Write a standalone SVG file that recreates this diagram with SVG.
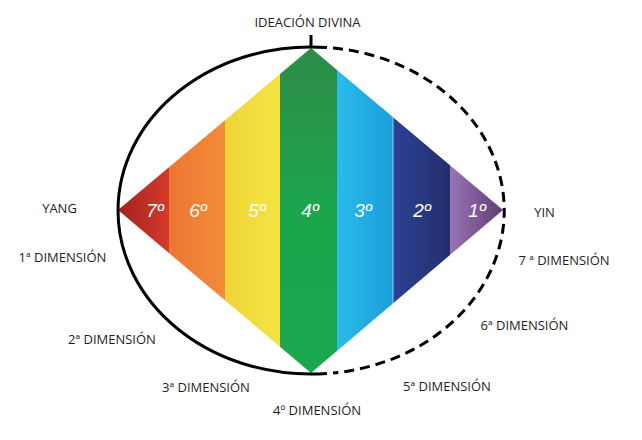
<svg xmlns="http://www.w3.org/2000/svg" width="642" height="440" viewBox="0 0 642 440">
<style>
.lbl{font-family:"Open Sans","Liberation Sans",sans-serif;font-size:13px;fill:#1e1e1e;text-anchor:middle}
.num{font-family:"Liberation Sans",Arial,sans-serif;font-style:italic;font-size:19px;fill:#ffffff;text-anchor:middle}
.arc{fill:none;stroke:#000;stroke-width:3}
</style>
<defs>
<clipPath id="dia"><polygon points="118,210 311,48 503,210 311,373"/></clipPath>
<linearGradient id="gRed" x1="0" y1="0" x2="1" y2="0"><stop offset="0" stop-color="#a3201d"/><stop offset="1" stop-color="#d43b2b"/></linearGradient>
<linearGradient id="gOrange" x1="0" y1="0" x2="1" y2="0"><stop offset="0" stop-color="#ec7632"/><stop offset="1" stop-color="#f28c3a"/></linearGradient>
<linearGradient id="gYellow" x1="0" y1="0" x2="1" y2="0"><stop offset="0" stop-color="#f0d438"/><stop offset="1" stop-color="#f3e444"/></linearGradient>
<linearGradient id="gGreen" x1="0" y1="0" x2="0" y2="1"><stop offset="0" stop-color="#2f8a46"/><stop offset="0.5" stop-color="#1ba64c"/><stop offset="1" stop-color="#1ba74e"/></linearGradient>
<linearGradient id="gCyan" x1="0" y1="0" x2="1" y2="0"><stop offset="0" stop-color="#2bbbec"/><stop offset="1" stop-color="#1b9ed9"/></linearGradient>
<linearGradient id="gBlue" x1="0" y1="0" x2="1" y2="0"><stop offset="0" stop-color="#2d4195"/><stop offset="1" stop-color="#222f6c"/></linearGradient>
<linearGradient id="gPurple" x1="0" y1="0" x2="1" y2="0"><stop offset="0" stop-color="#9c74b4"/><stop offset="1" stop-color="#5c3d75"/></linearGradient>
</defs>
<g id="diamond" clip-path="url(#dia)">
<rect id="band7" x="117" y="40" width="52" height="340" fill="url(#gRed)"/>
<rect id="band6" x="169" y="40" width="56" height="340" fill="url(#gOrange)"/>
<rect id="band5" x="225" y="40" width="55" height="340" fill="url(#gYellow)"/>
<rect id="band4" x="280" y="40" width="57" height="340" fill="url(#gGreen)"/>
<rect id="band3" x="337" y="40" width="56" height="340" fill="url(#gCyan)"/>
<rect id="band2" x="393" y="40" width="57" height="340" fill="url(#gBlue)"/>
<rect id="band1" x="450" y="40" width="54" height="340" fill="url(#gPurple)"/>
<line x1="393" y1="40" x2="393" y2="380" stroke="#8fd0f2" stroke-width="1"/>
</g>
<g id="connectors">
<path class="arc" d="M327,47.6 A192.5,163.5 0 1 0 327,373.4"/>
<path class="arc" stroke-dasharray="10,6" d="M333,48 A192.5,163.5 0 0 1 333,373"/>
<line x1="311" y1="35" x2="311" y2="48" stroke="#000" stroke-width="3"/>
</g>
<g id="numerals">
<text class="num" x="155" y="217">7º</text>
<text class="num" x="198" y="217">6º</text>
<text class="num" x="257" y="217">5º</text>
<text class="num" x="310" y="217">4º</text>
<text class="num" x="363" y="217">3º</text>
<text class="num" x="422" y="217">2º</text>
<text class="num" x="477" y="217">1º</text>
</g>
<g id="labels">
<text class="lbl" x="307.5" y="27">IDEACIÓN DIVINA</text>
<text class="lbl" x="59.5" y="213">YANG</text>
<text class="lbl" x="62.5" y="262">1ª DIMENSIÓN</text>
<text class="lbl" x="544.5" y="217">YIN</text>
<text class="lbl" x="564" y="265">7 ª DIMENSIÓN</text>
<text class="lbl" x="112" y="344">2ª DIMENSIÓN</text>
<text class="lbl" x="206" y="392">3ª DIMENSIÓN</text>
<text class="lbl" x="317" y="415">4º DIMENSIÓN</text>
<text class="lbl" x="447" y="391">5ª DIMENSIÓN</text>
<text class="lbl" x="524.5" y="330">6ª DIMENSIÓN</text>
</g>
</svg>
